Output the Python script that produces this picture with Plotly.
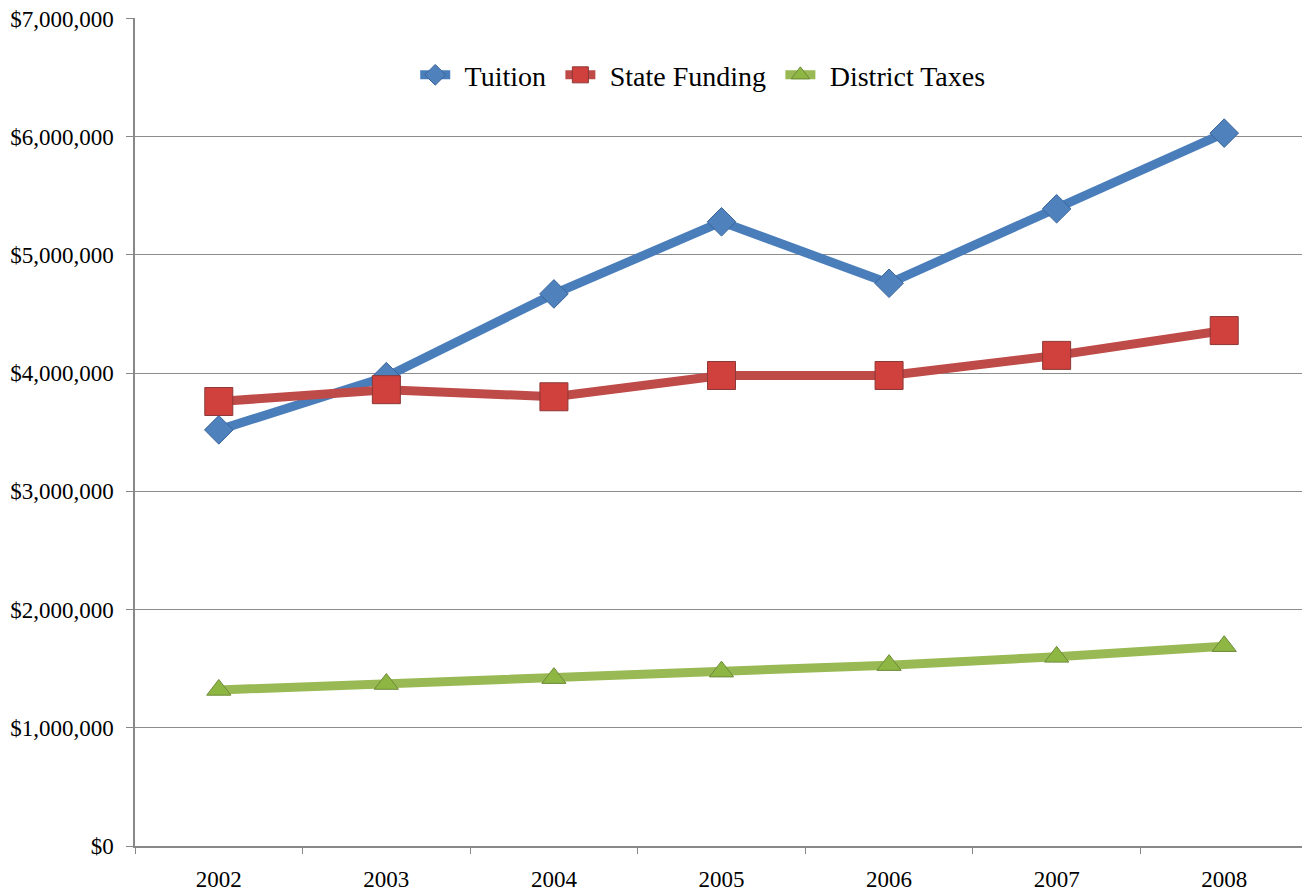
import plotly.graph_objects as go

years = ["2002", "2003", "2004", "2005", "2006", "2007", "2008"]
tuition = [3520000, 3970000, 4670000, 5280000, 4760000, 5390000, 6030000]
state_funding = [3760000, 3860000, 3800000, 3980000, 3980000, 4150000, 4360000]
district_taxes = [1320000, 1370000, 1420000, 1475000, 1530000, 1600000, 1690000]
y_ticks = [0, 1000000, 2000000, 3000000, 4000000, 5000000, 6000000, 7000000]
y_tick_text = ["$" + format(v, ",") for v in y_ticks]

fig = go.Figure()
series = [
    ("\u2004Tuition\u2004", tuition, "#4A7EBB", "#4F81BD", "#3A6599", "diamond", 22),
    ("\u2004State Funding\u2004", state_funding, "#BE4B48", "#D0403C", "#8C3836", "square", 28),
    ("\u2004District Taxes", district_taxes, "#98B954", "#8DB642", "#6E8A3A", "triangle-up", 21),
]
for name, vals, lc, mc, oc, sym, sz in series:
    fig.add_trace(go.Scatter(
        x=years, y=vals, name=name, mode="lines+markers",
        line=dict(color=lc, width=9),
        marker=dict(symbol=sym, size=sz, color=mc, line=dict(color=oc, width=1)),
    ))

fig.update_layout(
    width=1310, height=895,
    margin=dict(l=127, r=10, t=10, b=57),
    paper_bgcolor="white", plot_bgcolor="white",
    font=dict(family="Liberation Serif, Times New Roman, serif", size=23, color="black"),
    showlegend=True,
    legend=dict(orientation="h", x=0.484, xanchor="center", y=0.931, yanchor="middle",
                font=dict(size=28), bgcolor="rgba(0,0,0,0)",
                tracegroupgap=0),
    xaxis=dict(
        type="category", tickson="boundaries", ticks="outside", ticklen=6,
        tickcolor="#888888", showline=True, linecolor="#888888", linewidth=1.5,
        showgrid=False, range=[-0.5, 6.5], tickfont=dict(size=23),
        ticklabelstandoff=12, automargin=False,
    ),
    yaxis=dict(
        range=[0, 7004000], tickvals=y_ticks, ticktext=y_tick_text,
        ticks="outside", ticklen=7, tickcolor="#888888",
        showline=True, linecolor="#888888", linewidth=1.5,
        showgrid=True, gridcolor="#8c8c8c", gridwidth=1.2, zeroline=False,
        tickfont=dict(size=23), ticklabelstandoff=8, automargin=False,
        ticklabeloverflow="allow",
    ),
)
fig.write_html("out.html")
